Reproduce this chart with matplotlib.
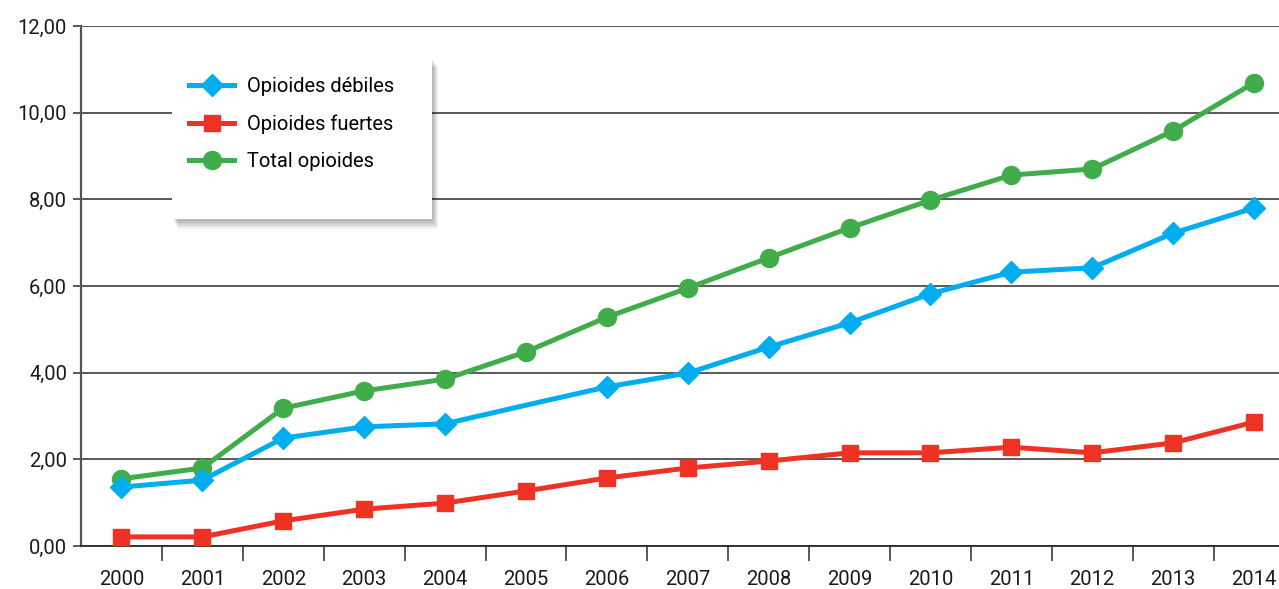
import matplotlib
matplotlib.use("Agg")
import matplotlib.pyplot as plt
from matplotlib.lines import Line2D
from matplotlib.patches import Rectangle

years = ["2000", "2001", "2002", "2003", "2004", "2005", "2006", "2007",
         "2008", "2009", "2010", "2011", "2012", "2013", "2014"]
debiles = [1.36, 1.52, 2.49, 2.75, 2.82, 3.25, 3.67, 3.99, 4.59, 5.15, 5.82, 6.32, 6.42, 7.22, 7.80]
fuertes = [0.21, 0.21, 0.58, 0.85, 0.99, 1.27, 1.57, 1.80, 1.96, 2.15, 2.15, 2.28, 2.15, 2.38, 2.86]
total = [1.55, 1.80, 3.18, 3.58, 3.85, 4.48, 5.28, 5.95, 6.65, 7.34, 7.98, 8.56, 8.70, 9.58, 10.69]
labels = ["Opioides débiles", "Opioides fuertes", "Total opioides"]
yticks = [0, 2, 4, 6, 8, 10, 12]

BLUE, RED, GREEN = "#00ADEE", "#EE3224", "#40AD4A"
FONT = "Roboto"
plt.rcParams["font.family"] = [FONT, "DejaVu Sans"]
FS = 14.5

W, H = 1279, 589
fig = plt.figure(figsize=(W / 100, H / 100), dpi=100)
ax = fig.add_axes([81 / W, 1 - 546 / H, (W - 81) / W, (546 - 26) / H])

x = list(range(len(years)))
lw = 3.6
ax.plot(x, total, color=GREEN, lw=lw, marker="o", ms=13, zorder=3, solid_joinstyle="round")
ax.plot(x, debiles, color=BLUE, lw=lw, marker="D", ms=11, zorder=4,
        markevery=[i for i in x if i != 5], solid_joinstyle="round")
ax.plot(x, fuertes, color=RED, lw=lw, marker="s", ms=12, zorder=4, solid_joinstyle="round")

ax.set_xlim(-0.5, -0.5 + (W - 81) / 80.9)
ax.set_ylim(0, 12)

ax.set_yticks(yticks)
ax.set_yticklabels([f"{v:.2f}".replace(".", ",") for v in yticks])
ax.yaxis.grid(True, color="#2b2b2b", lw=1.1)
ax.set_axisbelow(True)

ax.set_xticks(x)
ax.set_xticklabels(years)
ax.set_xticks([i + 0.5 for i in x[:-1]], minor=True)
ax.tick_params(axis="x", which="major", length=0, pad=17, labelsize=FS, colors="#1a1a1a")
ax.tick_params(axis="x", which="minor", length=11, width=1.1, color="#2b2b2b")
ax.tick_params(axis="y", length=6, width=1.1, color="#2b2b2b", labelsize=FS,
               labelcolor="#1a1a1a", pad=4)

for s in ["top", "right"]:
    ax.spines[s].set_visible(False)
ax.spines["left"].set_color("#555555")
ax.spines["left"].set_linewidth(1.6)
ax.spines["bottom"].set_color("#2b2b2b")
ax.spines["bottom"].set_linewidth(1.3)

# legend box with soft shadow
bx0, by0, bx1, by1 = 172, 57, 432, 219
def fr(px, py):
    return px / W, 1 - py / H
for i in range(6):
    off = 2 + i * 1.6
    x0, y0 = fr(bx0 + off * 0.6, by1 + off)
    fig.patches.append(Rectangle((x0, y0), (bx1 - bx0) / W, (by1 - by0) / H,
                                 transform=fig.transFigure, facecolor="black",
                                 alpha=0.05, lw=0, zorder=5))
x0, y0 = fr(bx0, by1)
fig.patches.append(Rectangle((x0, y0), (bx1 - bx0) / W, (by1 - by0) / H,
                             transform=fig.transFigure, facecolor="white", lw=0, zorder=6))
handles = [Line2D([0], [0], color=BLUE, lw=lw, marker="D", ms=11),
           Line2D([0], [0], color=RED, lw=lw, marker="s", ms=12),
           Line2D([0], [0], color=GREEN, lw=lw, marker="o", ms=13)]
leg = fig.legend(handles, labels, loc="upper left", bbox_to_anchor=fr(169, 57),
                 bbox_transform=fig.transFigure, frameon=False, fontsize=FS,
                 handlelength=2.25, handletextpad=0.6, labelspacing=0.9,
                 borderpad=0.5)
leg.set_zorder(7)

fig.savefig("out.png", dpi=100)
